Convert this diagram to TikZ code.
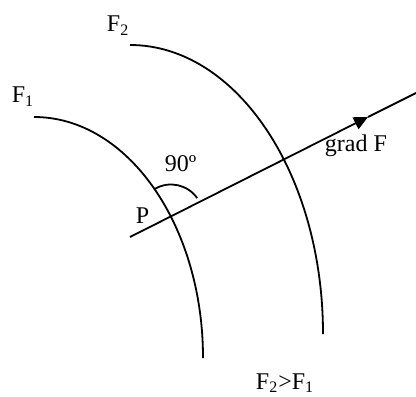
\documentclass[tikz,border=0pt]{standalone}
\usepackage{fontspec}
\setmainfont{Liberation Serif}
\usetikzlibrary{arrows.meta}

\begin{document}
\begin{tikzpicture}[x=0.5pt,y=0.5pt,line width=0.9pt,
    lbl/.style={inner sep=0pt,anchor=base west,font=\fontsize{12}{14}\selectfont}]
  \useasboundingbox (0,0) rectangle (416,396);

  % level curves
  \draw (34,279) arc[start angle=90,end angle=0,x radius=169,y radius=241];
  \draw (130,351) arc[start angle=90,end angle=0,x radius=193,y radius=289];

  % gradient
  \coordinate (start) at (130,159);
  \coordinate (tip) at (368,279);
  \coordinate (end) at (416,303);
  \draw[-{Triangle[length=7pt,width=6.5pt]}] (start) -- (tip);
  \draw (tip) -- (end);

  % right angle at P
  \coordinate (P) at (171,179.5);
  \draw (P) ++(120:32) arc[start angle=120,end angle=35,radius=32];

  \node[lbl] (f1) at (11,293) {F\textsubscript{1}};
  \node[lbl] (f2) at (106,364) {F\textsubscript{2}};
  \node[lbl] (ang) at (164,224) {90º};
  \node[lbl] (grad) at (324,244) {grad F};
  \node[lbl] (p) at (135,173) {P};
  \node[lbl] (cmp) at (255,7) {F\textsubscript{2}>F\textsubscript{1}};
\end{tikzpicture}
\end{document}
